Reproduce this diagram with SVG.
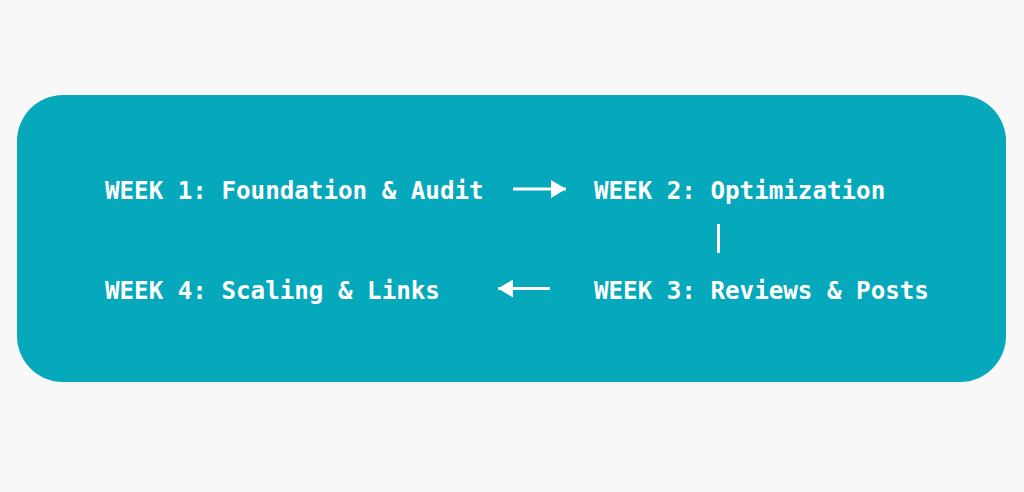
<svg xmlns="http://www.w3.org/2000/svg" width="1024" height="492" viewBox="0 0 1024 492">
<defs>
<style>
.bg{fill:#f8f8f8}
.panel{fill:#06a8bb}
.lbl{font-family:"DejaVu Sans Mono","Liberation Mono",monospace;font-weight:bold;font-size:24.2px;fill:#ffffff}
.conn{stroke:#ffffff;stroke-width:3;fill:none}
</style>
<marker id="ah" viewBox="0 0 15 18" refX="15" refY="9" markerWidth="15" markerHeight="18" markerUnits="userSpaceOnUse" orient="auto">
<path d="M0,0 L15,9 L0,18 Z" fill="#ffffff"/>
</marker>
</defs>
<rect class="bg" x="0" y="0" width="1024" height="492"/>
<rect class="panel" x="17" y="95" width="989" height="287" rx="46" ry="46"/>
<g id="week1"><text class="lbl" x="105" y="199">WEEK 1: Foundation &amp; Audit</text></g>
<g id="week2"><text class="lbl" x="594" y="199">WEEK 2: Optimization</text></g>
<g id="week3"><text class="lbl" x="594" y="299">WEEK 3: Reviews &amp; Posts</text></g>
<g id="week4"><text class="lbl" x="105" y="299">WEEK 4: Scaling &amp; Links</text></g>
<g id="connectors">
<line class="conn" x1="513" y1="189" x2="566" y2="189" marker-end="url(#ah)"/>
<line class="conn" x1="718.5" y1="224" x2="718.5" y2="253"/>
<line class="conn" x1="550" y1="288.5" x2="498" y2="288.5" marker-end="url(#ah)"/>
</g>
</svg>
